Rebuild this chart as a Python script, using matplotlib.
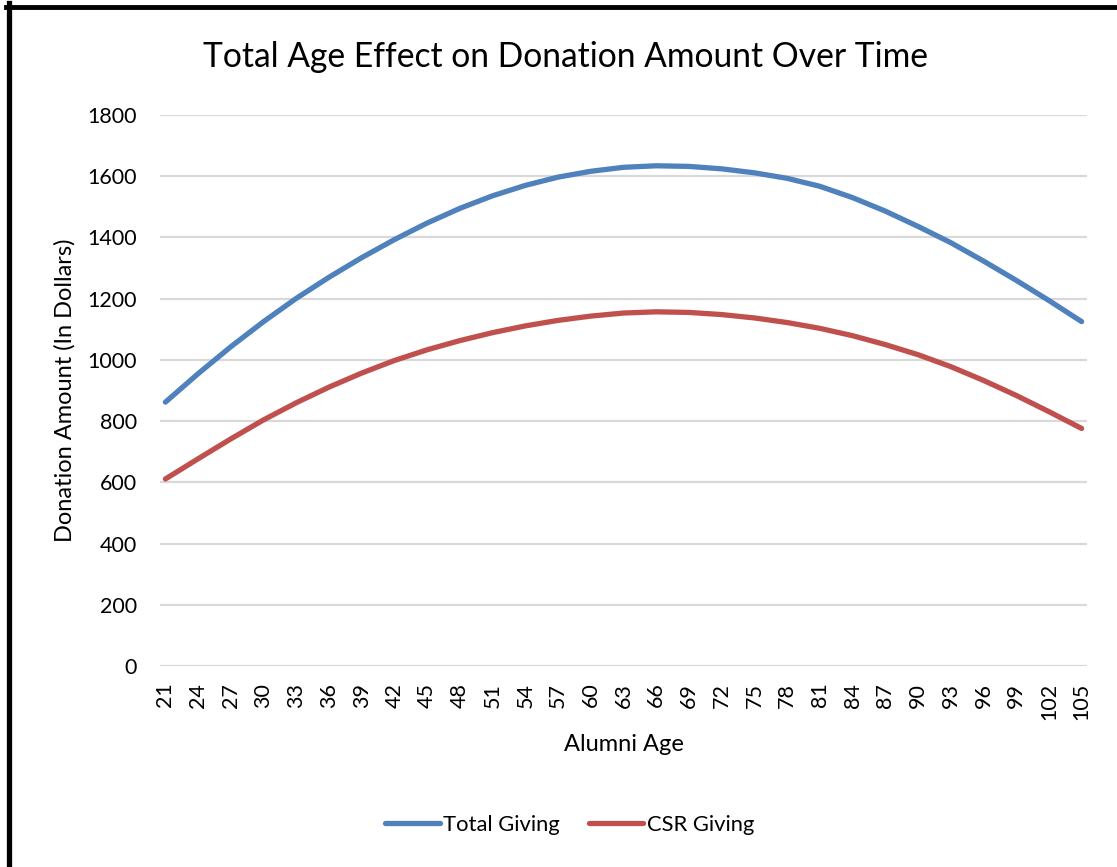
import matplotlib
matplotlib.use("Agg")
import matplotlib.pyplot as plt
from matplotlib.lines import Line2D

plt.rcParams['font.family'] = ['Lato', 'DejaVu Sans']

# alumni ages (every third year) and the fitted giving amounts in dollars
ages = [21, 24, 27, 30, 33, 36, 39, 42, 45, 48, 51, 54, 57, 60, 63,
        66, 69, 72, 75, 78, 81, 84, 87, 90, 93, 96, 99, 102, 105]
total_giving = [862, 955, 1043, 1125, 1201, 1270, 1334, 1393, 1447, 1495,
                1536, 1570, 1597, 1616, 1629, 1634, 1632, 1624, 1611, 1593,
                1567, 1530, 1486, 1436, 1383, 1323, 1260, 1194, 1125]
csr_giving = [611, 677, 742, 804, 860, 911, 957, 998, 1033, 1063,
              1089, 1111, 1129, 1143, 1153, 1157, 1155, 1148, 1137, 1122,
              1103, 1079, 1050, 1017, 978, 933, 884, 831, 776]
y_ticks = [0, 200, 400, 600, 800, 1000, 1200, 1400, 1600, 1800]

BLUE = '#4F81BD'
RED = '#C0504D'
GRID = '#D9D9D9'

fig = plt.figure(figsize=(11.17, 8.67), dpi=100)
ax = fig.add_axes([0.1432, 0.2318, 0.8300, 0.6356])

ax.plot(ages, total_giving, color=BLUE, lw=3.8, solid_capstyle='round',
        label='Total Giving')
ax.plot(ages, csr_giving, color=RED, lw=3.8, solid_capstyle='round',
        label='CSR Giving')

ax.set_xlim(20.5, 105.5)
ax.set_ylim(0, 1800)
ax.set_yticks(y_ticks)
ax.set_xticks(ages)
ax.set_xticklabels([str(a) for a in ages], rotation=90, va='top')
ax.tick_params(length=0, labelsize=15.5, colors='black')
ax.tick_params(axis='y', pad=16.5)
ax.tick_params(axis='x', pad=12)
ax.grid(axis='y', color=GRID, lw=1.6)
ax.set_axisbelow(True)
for s in ax.spines.values():
    s.set_visible(False)

ax.set_xlabel('Alumni Age', fontsize=17, va='center')
ax.xaxis.set_label_coords(0.5, -0.1416)
ax.set_ylabel('Donation Amount (In Dollars)', fontsize=17, va='center')
ax.yaxis.set_label_coords(-0.1025, 0.5)
fig.text(0.5063, 0.934, 'Total Age Effect on Donation Amount Over Time',
         ha='center', va='center', fontsize=24.2)

fig.legend(loc='center', bbox_to_anchor=(0.510, 0.0484), ncol=2, frameon=False,
           fontsize=15.8, handlelength=2.5, handletextpad=0.15, columnspacing=1.3)

# black frame along the left and top edges
fig.add_artist(Line2D([0.0078, 0.0078], [0, 0.9965], color='black', lw=3.8,
                      transform=fig.transFigure))
fig.add_artist(Line2D([0.0058, 1.0], [0.9919, 0.9919], color='black', lw=3.5,
                      transform=fig.transFigure))

fig.savefig('out.png', dpi=100)
